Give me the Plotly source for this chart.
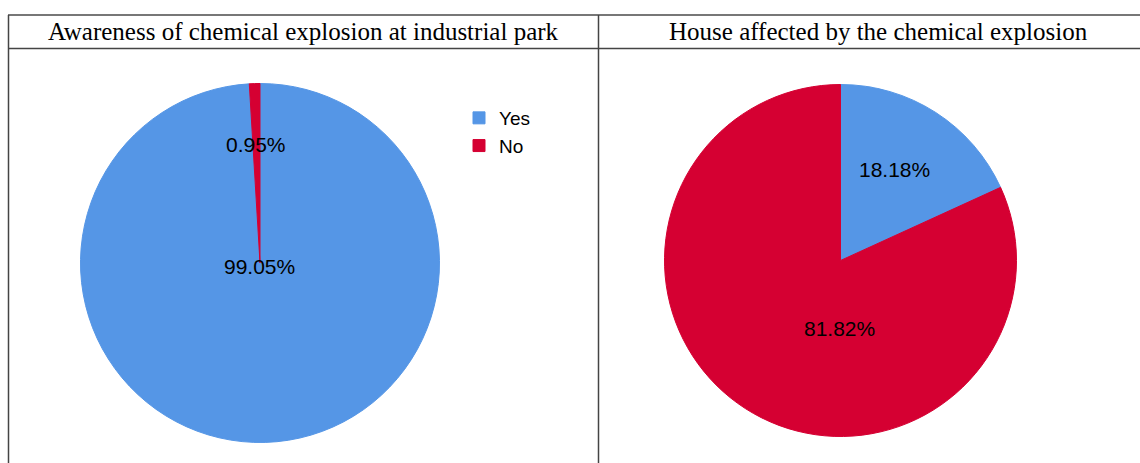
import plotly.graph_objects as go

W, H = 1140, 463

titles = ["Awareness of chemical explosion at industrial park",
          "House affected by the chemical explosion"]
labels = ["Yes", "No"]
awareness = [99.05, 0.95]
house = [18.18, 81.82]
colors = ["#5596E6", "#D50032"]

def px(x):
    return x / W

def py(y):
    return 1 - y / H

fig = go.Figure()

fig.add_trace(go.Pie(
    labels=labels, values=awareness, sort=False, direction="clockwise", rotation=0,
    marker=dict(colors=colors, line=dict(width=1, color=colors)), textinfo="none", hoverinfo="label+percent",
    domain=dict(x=[px(80.5), px(439.5)], y=[py(442.5), py(83.5)]), legend="legend",
))
fig.add_trace(go.Pie(
    labels=labels, values=house, sort=False, direction="clockwise", rotation=0,
    marker=dict(colors=colors, line=dict(width=1, color=colors)), textinfo="none", hoverinfo="label+percent",
    domain=dict(x=[px(664.5), px(1016.5)], y=[py(436.5), py(84.5)]), legend="legend2",
))

label_pos_1 = [(259, 266), (256, 145)]
label_pos_2 = [(894, 170), (839, 328)]
annotations = []
for vals, poss in ((awareness, label_pos_1), (house, label_pos_2)):
    for v, (x, y) in zip(vals, poss):
        annotations.append(dict(x=px(x), y=py(y), xref="paper", yref="paper",
                                xanchor="center", yanchor="middle",
                                text=f"{v:.2f}%", showarrow=False,
                                font=dict(family="Liberation Sans, Arial", size=21, color="black")))
for t, cx in zip(titles, (303, 878)):
    annotations.append(dict(x=px(cx), y=py(31), xref="paper", yref="paper", text=t,
                            xanchor="center", yanchor="middle", showarrow=False,
                            font=dict(family="Liberation Serif, Times New Roman", size=25, color="black")))

line_c = "#444444"
shapes = [
    dict(type="line", xref="paper", yref="paper", x0=px(8), x1=1, y0=py(15), y1=py(15), line=dict(color="#777777", width=2)),
    dict(type="line", xref="paper", yref="paper", x0=px(8), x1=1, y0=py(48.5), y1=py(48.5), line=dict(color=line_c, width=1.5)),
    dict(type="line", xref="paper", yref="paper", x0=px(8.5), x1=px(8.5), y0=0, y1=py(15), line=dict(color=line_c, width=1.5)),
    dict(type="line", xref="paper", yref="paper", x0=px(598.5), x1=px(598.5), y0=0, y1=py(15), line=dict(color=line_c, width=1.5)),
]

legend_font = dict(family="Liberation Sans, Arial", size=19, color="black")
fig.update_layout(
    width=W, height=H, margin=dict(l=0, r=0, t=0, b=0),
    paper_bgcolor="white", plot_bgcolor="white",
    annotations=annotations, shapes=shapes,
    legend=dict(x=px(459), y=py(99), xanchor="left", yanchor="top", font=legend_font,
                bgcolor="rgba(0,0,0,0)", tracegroupgap=0),
    legend2=dict(x=px(1031), y=py(100), xanchor="left", yanchor="top", font=legend_font,
                 bgcolor="rgba(0,0,0,0)", tracegroupgap=0),
)

fig.write_html("out.html")
